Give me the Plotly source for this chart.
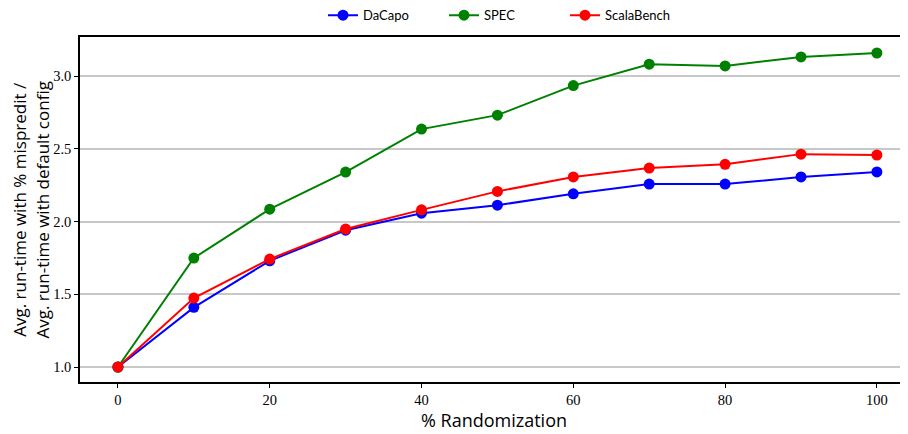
import plotly.graph_objects as go

randomization = [0, 10, 20, 30, 40, 50, 60, 70, 80, 90, 100]
dacapo = [1.0, 1.41, 1.73, 1.94, 2.057, 2.112, 2.19, 2.257, 2.257, 2.306, 2.341]
spec = [1.0, 1.749, 2.085, 2.34, 2.635, 2.731, 2.934, 3.081, 3.069, 3.131, 3.158]
scalabench = [1.0, 1.474, 1.742, 1.948, 2.08, 2.207, 2.306, 2.367, 2.393, 2.463, 2.457]

series = [("DaCapo", dacapo, "#0000ff"), ("SPEC", spec, "#008000"), ("ScalaBench", scalabench, "#ff0000")]

fig = go.Figure()
for name, vals, col in series:
    fig.add_trace(go.Scatter(
        x=randomization, y=vals, name=name, mode="lines+markers",
        line=dict(color=col, width=2),
        marker=dict(color=col, size=11),
    ))

fig.update_layout(
    width=900, height=426,
    margin=dict(l=72, r=0, t=29, b=52, autoexpand=False),
    plot_bgcolor="white", paper_bgcolor="white",
    font=dict(family="Open Sans", color="black"),
    legend=dict(orientation="h", x=0.35, xanchor="left", y=0.983, yanchor="middle",
                yref="container", xref="container", bgcolor="rgba(0,0,0,0)",
                font=dict(family="Lato", size=13), itemwidth=30,
                entrywidth=76, entrywidthmode="pixels",
                traceorder="normal"),
    showlegend=True,
)

fig.add_annotation(
    text="Avg. run-time with % mispredit /<br>Avg. run-time with default config",
    xref="paper", yref="paper", x=-0.0592, y=0.5, xanchor="center", yanchor="middle",
    textangle=-90, showarrow=False, font=dict(family="Open Sans", size=17, color="black"),
)

fig.update_xaxes(
    range=[-5.0, 104.1], automargin=False,
    tickvals=[0, 20, 40, 60, 80, 100], ticktext=["0", "20", "40", "60", "80", "100"],
    ticks="outside", ticklen=4, tickwidth=1, tickcolor="black",
    showline=True, linecolor="black", linewidth=1.5, mirror=True,
    showgrid=False, zeroline=False,
    tickfont=dict(family="Liberation Serif", size=14.5),
    title=dict(text="% Randomization", font=dict(family="Open Sans", size=18), standoff=3),
)
fig.update_yaxes(
    range=[0.897, 3.268], automargin=False,
    tickvals=[1.0, 1.5, 2.0, 2.5, 3.0], ticktext=["1.0", "1.5", "2.0", "2.5", "3.0"],
    ticks="outside", ticklen=4, tickwidth=1, tickcolor="black",
    showline=True, linecolor="black", linewidth=1.5,
    showgrid=True, gridcolor="#c8c8c8", gridwidth=1.5, zeroline=False,
    tickfont=dict(family="Liberation Serif", size=14.5),
)

fig.write_html("out.html")
